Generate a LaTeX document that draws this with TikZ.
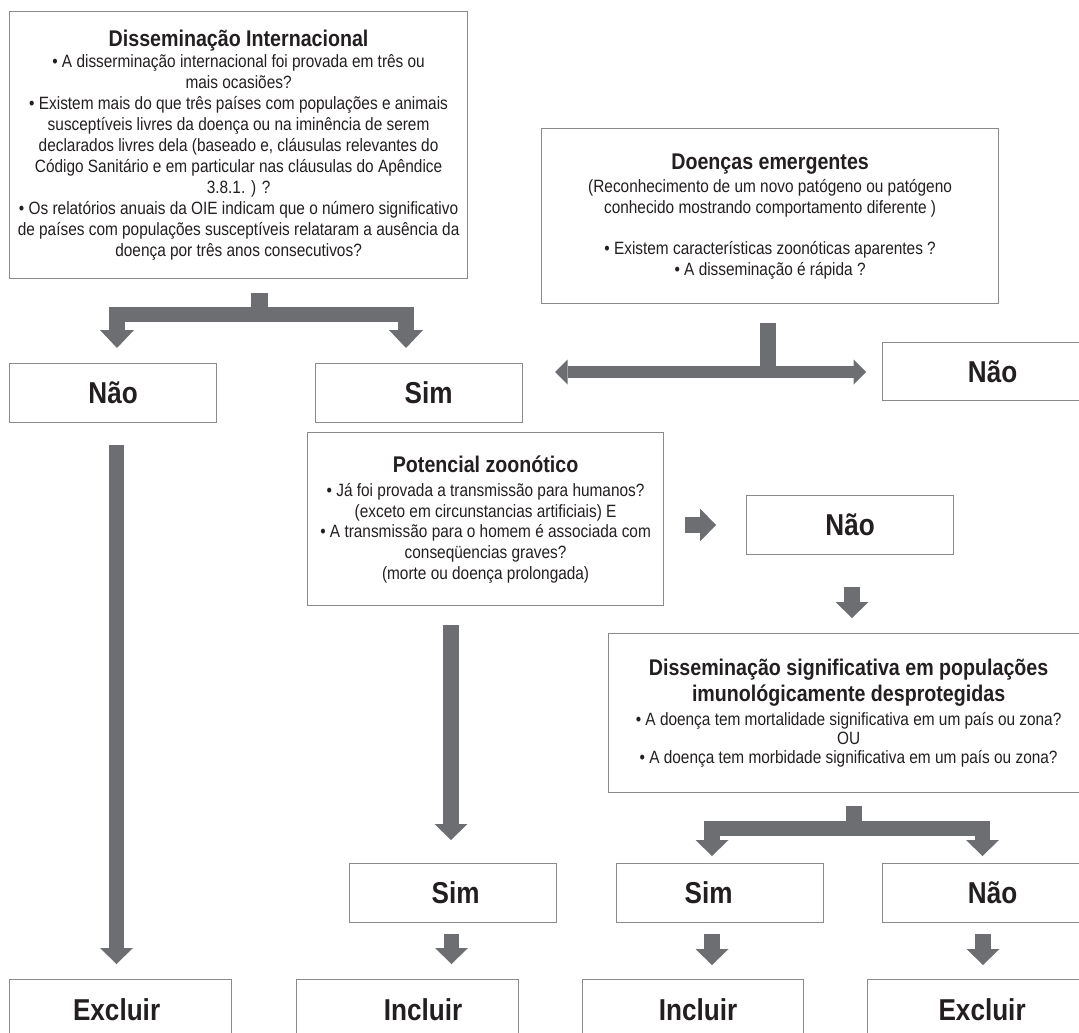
\documentclass[tikz,border=0pt]{standalone}
\usepackage{fontspec}
\setmainfont{Liberation Sans}[FakeStretch=0.865]
\usetikzlibrary{arrows.meta,calc}
\definecolor{arrowgray}{HTML}{6D6E71}
\definecolor{boxgray}{HTML}{8A8A8A}
\definecolor{txt}{HTML}{231F20}
\newcommand{\ttlf}{\bfseries\fontsize{22.7}{24}\selectfont}
\newcommand{\bdyf}{\mdseries\fontsize{17.8}{21}\selectfont}
\tikzset{
  box/.style={draw=boxgray, line width=1.2pt, rectangle, inner sep=0pt,
    anchor=north west, align=center, text=txt},
  lbl/.style={box, font=\bfseries\fontsize{30.2}{32}\selectfont},
  fatline/.style={draw=arrowgray, line width=#1, line join=miter, line cap=butt},
  fat/.style={draw=arrowgray, line width=15.5pt, line join=miter,
    -{Triangle[width=33pt,length=16pt,line width=0pt]}},
  fatA/.style={draw=arrowgray, line width=15.5pt, line join=miter,
    -{Triangle[width=34pt,length=18pt,line width=0pt]}},
  dbl/.style={draw=arrowgray, line width=12pt,
    {Triangle[width=25pt,length=12.5pt,line width=0pt]}-{Triangle[width=25pt,length=12.5pt,line width=0pt]}},
}
\begin{document}
\begin{tikzpicture}[x=1pt,y=-1pt]
\useasboundingbox (0,0) rectangle (1079,1033);
\fill[white] (0,0) rectangle (1079,1033);
\clip (0,0) rectangle (1079,1033);

% ---------- boxes ----------
\node[box, minimum width=458pt, minimum height=267pt,
      font=\fontsize{17.8}{21}\selectfont] (dint) at (9,11)
 {{\ttlf Disseminação Internacional}\\
  \bdyf • A disserminação internacional foi provada em três ou\\
  mais ocasiões?\\
  • Existem mais do que três países com populações e animais\\
  susceptíveis livres da doença ou na iminência de serem\\
  declarados livres dela (baseado e, cláusulas relevantes do\\
  Código Sanitário e em particular nas cláusulas do Apêndice\\
  3.8.1. ) ?\\
  • Os relatórios anuais da OIE indicam que o número significativo\\
  de países com populações susceptíveis relataram a ausência da\\
  doença por três anos consecutivos?};

\node[box, minimum width=457pt, minimum height=175pt,
      font=\fontsize{17.8}{20.6}\selectfont] (doen) at (541,128)
 {{\ttlf Doenças emergentes}\\[3pt]
  \mdseries (Reconhecimento de um novo patógeno ou patógeno\\
  conhecido mostrando comportamento diferente )\\[20.6pt]
  • Existem características zoonóticas aparentes ?\\
  • A disseminação é rápida ?};

\node[lbl, minimum width=207pt, minimum height=59pt] (naoA) at (9,363) {Não};
\node[lbl, minimum width=207pt, minimum height=59pt] (simA) at (315,363) {\hspace*{19pt}Sim};
\node[lbl, minimum width=220pt, minimum height=58pt] (naoB) at (882,342) {Não};

\node[box, minimum width=356pt, minimum height=173pt,
      font=\fontsize{17.8}{20.6}\selectfont] (pot) at (307,432)
 {{\ttlf Potencial zoonótico}\\[4pt]
  \mdseries • Já foi provada a transmissão para humanos?\\
  (exceto em circunstancias artificiais) E\\
  • A transmissão para o homem é associada com\\
  conseqüencias graves?\\
  (morte ou doença prolongada)};

\node[lbl, minimum width=207pt, minimum height=59pt] (naoC) at (746,495) {Não};

\node[box, minimum width=480pt, minimum height=159pt,
      font=\fontsize{17.8}{19}\selectfont] (dsig) at (608,633)
 {{\ttlf Disseminação significativa em populações}\\[4pt]
  {\ttlf imunológicamente desprotegidas}\\[4.7pt]
  \mdseries • A doença tem mortalidade significativa em um país ou zona?\\
  OU\\
  • A doença tem morbidade significativa em um país ou zona?};

\node[lbl, minimum width=207pt, minimum height=59pt] (simB) at (349,863) {\hspace*{5pt}Sim};
\node[lbl, minimum width=207pt, minimum height=59pt] (simC) at (616,863) {Sim\hspace*{23pt}};
\node[lbl, minimum width=220pt, minimum height=59pt] (naoD) at (882,863) {Não};

\node[lbl, minimum width=222pt, minimum height=60pt] (excA) at (9,979) {Excluir\hspace*{8pt}};
\node[lbl, minimum width=222pt, minimum height=60pt] (incA) at (296,979) {\hspace*{31pt}Incluir};
\node[lbl, minimum width=221pt, minimum height=60pt] (incB) at (582,979) {\hspace*{10pt}Incluir};
\node[lbl, minimum width=229pt, minimum height=60pt] (excB) at (867,979) {Excluir};

% ---------- arrow anchor points ----------
\coordinate (f1top) at (259.5,293);
\coordinate (f1mid) at (259.5,314.5);
\coordinate (f1L) at (117,348);
\coordinate (f1R) at (406,348);

\coordinate (f2top) at (768,323);
\coordinate (f2mid) at (768,372);
\coordinate (f2L) at (555,372);
\coordinate (f2R) at (866,372);

\coordinate (a1s) at (116.5,445);
\coordinate (a1e) at (116.5,964);
\coordinate (a2s) at (451,625);
\coordinate (a2e) at (451,840);
\coordinate (a3s) at (685,525);
\coordinate (a3e) at (716,525);
\coordinate (a4s) at (852,587);
\coordinate (a4e) at (852,618);

\coordinate (f3top) at (854,806);
\coordinate (f3mid) at (854,828.5);
\coordinate (f3L) at (712,856);
\coordinate (f3R) at (982.5,856);

\coordinate (a5s) at (451.5,934);
\coordinate (a5e) at (451.5,964);
\coordinate (a6s) at (712,934);
\coordinate (a6e) at (712,965);
\coordinate (a7s) at (983,934);
\coordinate (a7e) at (983,965);

% ---------- arrows ----------
\draw[fatline=17pt] (f1top) -- (f1mid);
\draw[fatA] (f1mid) -| (f1L);
\draw[fatA] (f1mid) -| (f1R);

\draw[fatline=16pt] (f2top) -- (f2mid);
\draw[dbl] (f2L) -- (f2R);

\draw[fat] (a1s) -- (a1e);
\draw[fat] (a2s) -- (a2e);
\draw[fat] (a3s) -- (a3e);
\draw[fat] (a4s) -- (a4e);

\draw[fatline=16pt] (f3top) -- (f3mid);
\draw[fat] (f3mid) -| (f3L);
\draw[fat] (f3mid) -| (f3R);

\draw[fat] (a5s) -- (a5e);
\draw[fat] (a6s) -- (a6e);
\draw[fat] (a7s) -- (a7e);
\end{tikzpicture}
\end{document}
